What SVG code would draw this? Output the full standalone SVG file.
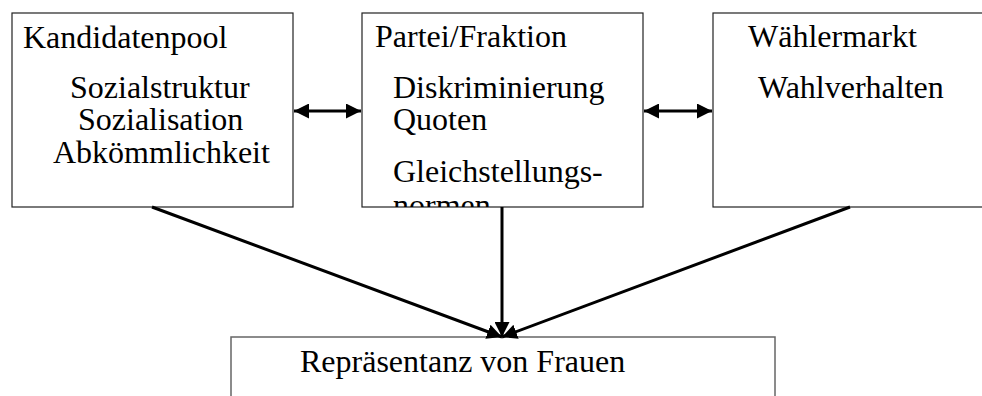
<svg xmlns="http://www.w3.org/2000/svg" width="982" height="396" viewBox="0 0 982 396">
<style>
.box{fill:#fff;stroke:#222;stroke-width:1.2}
.bbox{fill:#fff;stroke:#666;stroke-width:1.5}
.t{font-family:"Liberation Serif","Times New Roman",serif;font-size:32px;fill:#000}
.c{stroke:#000;stroke-width:3;fill:none}
</style>
<defs>
<marker id="ah" viewBox="0 0 10 10" refX="10" refY="5" markerWidth="5" markerHeight="5" orient="auto-start-reverse" markerUnits="strokeWidth">
<path d="M0,0 L10,5 L0,10 Z" fill="#000"/>
</marker>
<clipPath id="clip2"><rect x="362" y="13" width="281" height="194"/></clipPath>
</defs>
<g id="kandidatenpool">
<rect class="box" x="12" y="13" width="281" height="194"/>
<text class="t" x="23" y="48">Kandidatenpool</text>
<text class="t" x="70" y="98">Sozialstruktur</text>
<text class="t" x="78" y="130">Sozialisation</text>
<text class="t" x="53" y="163">Abkömmlichkeit</text>
</g>
<g id="partei">
<rect class="box" x="362" y="13" width="281" height="194"/>
<g clip-path="url(#clip2)">
<text class="t" x="375" y="47">Partei/Fraktion</text>
<text class="t" x="393" y="98">Diskriminierung</text>
<text class="t" x="393" y="130">Quoten</text>
<text class="t" x="393" y="182">Gleichstellungs-</text>
<text class="t" x="393" y="216">normen</text>
</g>
</g>
<g id="waehlermarkt">
<rect class="box" x="713" y="13" width="300" height="194"/>
<text class="t" x="748" y="47">Wählermarkt</text>
<text class="t" x="758" y="98">Wahlverhalten</text>
</g>
<g id="repraesentanz">
<rect class="bbox" x="231" y="337" width="544" height="80"/>
<text class="t" x="300" y="372">Repräsentanz von Frauen</text>
</g>
<g id="connectors">
<line class="c" x1="294" y1="111" x2="361" y2="111" marker-start="url(#ah)" marker-end="url(#ah)"/>
<line class="c" x1="644" y1="111" x2="712" y2="111" marker-start="url(#ah)" marker-end="url(#ah)"/>
<line class="c" x1="152" y1="207" x2="502" y2="337" marker-end="url(#ah)"/>
<line class="c" x1="502" y1="207" x2="502" y2="337" marker-end="url(#ah)"/>
<line class="c" x1="850" y1="207" x2="502" y2="337" marker-end="url(#ah)"/>
</g>
</svg>
